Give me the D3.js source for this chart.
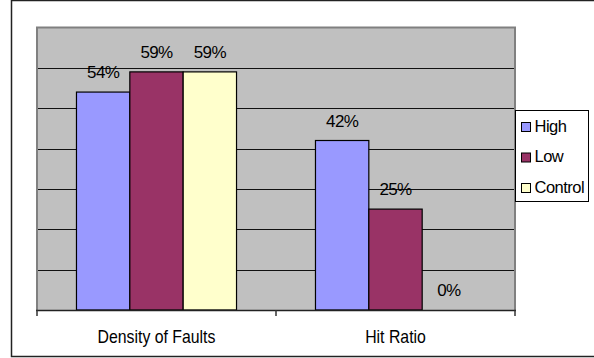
<!DOCTYPE html>
<html>
<head>
<meta charset="utf-8">
<script src="https://cdn.jsdelivr.net/npm/d3@7"></script>
<style>
  html, body { margin: 0; padding: 0; background: #fff; }
  svg { display: block; }
  text { font-family: "Liberation Sans", Arial, sans-serif; fill: #000; }
</style>
</head>
<body>
<svg id="chart" width="594" height="358"></svg>
<script>
// Chart data
const categories = ["Density of Faults", "Hit Ratio"];
const seriesNames = ["High", "Low", "Control"];
const highValues = [54, 42];
const lowValues = [59, 25];
const controlValues = [59, 0];
const gridValues = [10, 20, 30, 40, 50, 60];

const seriesValues = [highValues, lowValues, controlValues];
const colors = ["#9999FF", "#993366", "#FFFFCC"];

const svg = d3.select("#chart");

// Outer chart frame (right edge runs past the canvas)
svg.append("rect")
  .attr("x", 11.5).attr("y", 0.5)
  .attr("width", 590).attr("height", 356)
  .attr("fill", "#fff").attr("stroke", "#222").attr("stroke-width", 1.5);

const plot = { left: 37, right: 515, top: 27.5, bottom: 310 };

const y = d3.scaleLinear().domain([0, 70]).range([plot.bottom, plot.top]);
const x0 = d3.scaleBand().domain(categories).range([plot.left, plot.right]).padding(0);
const x1 = d3.scaleBand().domain(seriesNames).range([0, x0.bandwidth()])
  .paddingInner(0).paddingOuter(0.74);

// Plot background
svg.append("rect")
  .attr("x", plot.left).attr("y", plot.top)
  .attr("width", plot.right - plot.left).attr("height", plot.bottom - plot.top)
  .attr("fill", "#C0C0C0");

// Horizontal gridlines
svg.append("g").selectAll("line").data(gridValues).join("line")
  .attr("x1", plot.left).attr("x2", plot.right)
  .attr("y1", d => Math.round(y(d)) + 0.5).attr("y2", d => Math.round(y(d)) + 0.5)
  .attr("stroke", "#111").attr("stroke-width", 1);

// Plot border (left, top, right)
svg.append("path")
  .attr("d", `M${plot.left},${plot.bottom} V${plot.top} H${plot.right} V${plot.bottom}`)
  .attr("fill", "none").attr("stroke", "#808080").attr("stroke-width", 2);

// Bars
const rows = categories.map((c, i) => ({
  category: c,
  values: seriesNames.map((s, j) => ({ series: s, value: seriesValues[j][i], color: colors[j] }))
}));

const groups = svg.append("g").selectAll("g").data(rows).join("g")
  .attr("transform", d => `translate(${x0(d.category)},0)`);

groups.selectAll("rect").data(d => d.values).join("rect")
  .attr("x", d => x1(d.series))
  .attr("y", d => y(d.value))
  .attr("width", x1.bandwidth())
  .attr("height", d => y(0) - y(d.value))
  .attr("fill", d => d.color)
  .attr("stroke", "#000").attr("stroke-width", 1.2);

// Value labels
groups.selectAll("text").data(d => d.values).join("text")
  .attr("x", d => x1(d.series) + x1.bandwidth() / 2)
  .attr("y", d => y(d.value) - 14)
  .attr("text-anchor", "middle")
  .style("font-size", "17px").style("letter-spacing", "-0.6px")
  .text(d => d.value + "%");

// Category axis
const xAxis = svg.append("g").attr("transform", `translate(0,${plot.bottom})`);
xAxis.append("line")
  .attr("x1", plot.left - 1).attr("x2", plot.right + 1)
  .attr("y1", 0.5).attr("y2", 0.5)
  .attr("stroke", "#222").attr("stroke-width", 1.5);
const tickPositions = categories.map(c => x0(c)).concat([x0(categories[categories.length - 1]) + x0.bandwidth()]);
xAxis.selectAll("line.tick").data(tickPositions).join("line")
  .attr("class", "tick")
  .attr("x1", d => d).attr("x2", d => d)
  .attr("y1", 0).attr("y2", 6)
  .attr("stroke", "#333").attr("stroke-width", 1.5);
xAxis.selectAll("text").data(categories).join("text")
  .attr("transform", d => `translate(${x0(d) + x0.bandwidth() / 2},32.7) scale(0.88,1)`)
  .attr("text-anchor", "middle")
  .style("font-size", "18px")
  .text(d => d);

// Legend
const legend = svg.append("g").attr("transform", "translate(515.5,110.5)");
legend.append("rect")
  .attr("width", 73).attr("height", 91)
  .attr("fill", "#fff").attr("stroke", "#000").attr("stroke-width", 1);
const items = legend.selectAll("g").data(seriesNames).join("g")
  .attr("transform", (d, i) => `translate(6,${12 + i * 30.5})`);
items.append("rect")
  .attr("width", 9).attr("height", 9)
  .attr("fill", (d, i) => colors[i])
  .attr("stroke", "#000").attr("stroke-width", 1);
items.append("text")
  .attr("x", 13).attr("y", 9.3)
  .style("font-size", "16.5px").style("letter-spacing", "-0.5px")
  .text(d => d);
</script>
</body>
</html>
